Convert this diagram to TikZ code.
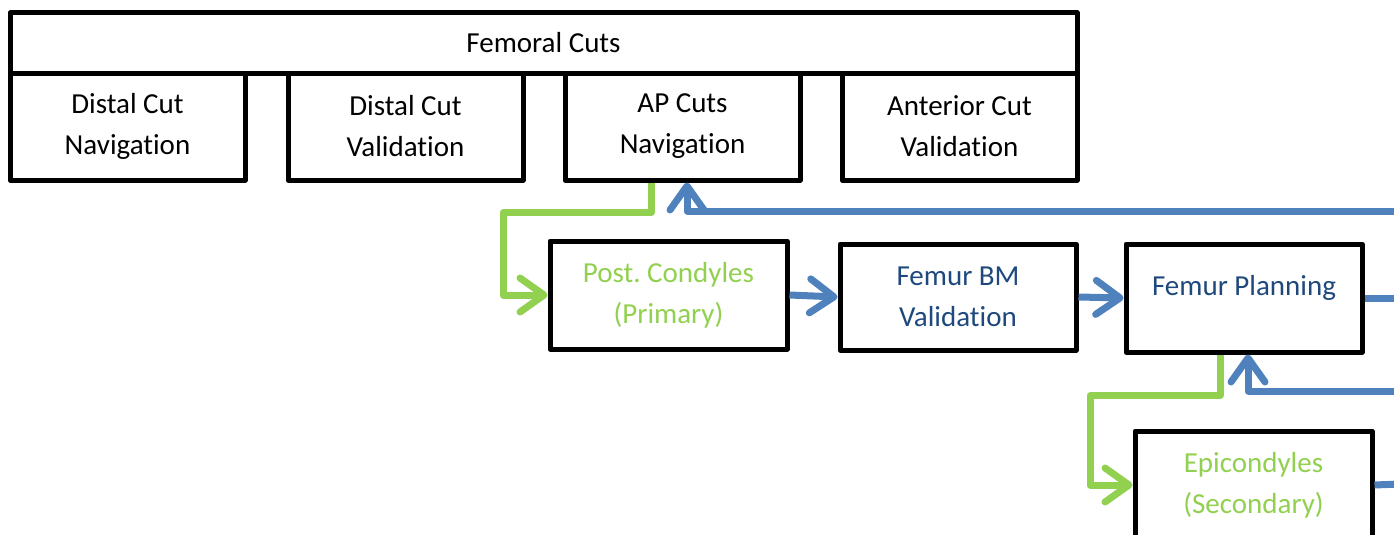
\documentclass[tikz,border=0pt]{standalone}
\usepackage{fontspec}
\setmainfont{Carlito}[Ligatures={NoCommon}]
\usetikzlibrary{arrows.meta}
\definecolor{ogreen}{HTML}{92D050}
\definecolor{oblue}{HTML}{4F81BD}
\definecolor{dblue}{HTML}{1F497D}
\frenchspacing
\tikzset{
  box/.style={draw=black, line width=5pt, line join=round, rectangle, inner sep=0pt,
    align=center, font=\fontsize{29}{41}\selectfont, fill=white},
  tipv/.style={-{Straight Barb[length=24pt, width=34pt, line width=7pt, round]}},
  garrow/.style={draw=ogreen, line width=7pt, line join=round, tipv},
  barrow/.style={draw=oblue, line width=7pt, line join=round, tipv},
}
\begin{document}
\begin{tikzpicture}[x=1pt, y=-1pt]
\useasboundingbox (0,0) rectangle (1394,535);
\node[box, minimum width=1067pt, minimum height=60pt] (fc) at (543.5,43) {Femoral Cuts};
\node[box, minimum width=235pt, minimum height=107pt] (dcn) at (127.5,126.5) {Distal Cut\\Navigation};
\node[box, minimum width=235pt, minimum height=107pt] (dcv) at (405.5,126.5) {Distal Cut\\Validation};
\node[box, minimum width=235pt, minimum height=107pt] (ap) at (682.5,126.5) {AP Cuts\\Navigation};
\node[box, minimum width=235pt, minimum height=107pt] (acv) at (959.5,126.5) {Anterior Cut\\Validation};
\node[box, minimum width=237pt, minimum height=108pt, text=ogreen] (pc) at (668.5,295) {Post. Condyles\\(Primary)};
\node[box, minimum width=236pt, minimum height=106pt, text=dblue] (bm) at (958,297) {Femur BM\\Validation};
\node[box, minimum width=236pt, minimum height=108pt, text=dblue] (fp) at (1244,298) {\raisebox{26pt}{Femur Planning}};
\node[box, minimum width=237pt, minimum height=108pt, text=ogreen] (ep) at (1253.5,485) {Epicondyles\\(Secondary)};
\coordinate (r1) at (1400,211);
\coordinate (r2) at (1400,391);
\coordinate (r3) at (1400,298);
\coordinate (r4) at (1400,484);
\draw[garrow] ([xshift=-31.5pt]ap.south) -- ++(0,30) -| (503,250) |- (pc.west);
\draw[barrow] (r1) -| ([xshift=4.5pt]ap.south);
\draw[barrow] (pc.east) -- (bm.west);
\draw[barrow] (bm.east) -- (fp.west);
\draw[draw=oblue, line width=7pt] (fp.east) -- (r3);
\draw[garrow] ([xshift=-24pt]fp.south) -- ++(0,41) -| (1090,440) |- (ep.west);
\draw[barrow] (r2) -| ([xshift=4pt]fp.south);
\draw[draw=oblue, line width=7pt] (ep.east) -- (r4);
\end{tikzpicture}
\end{document}
